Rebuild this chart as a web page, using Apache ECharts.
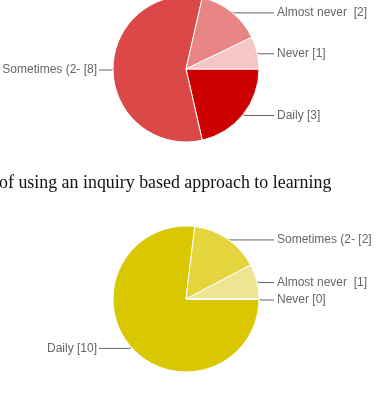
<!DOCTYPE html>
<html><head><meta charset="utf-8">
<script src="https://cdn.jsdelivr.net/npm/echarts@6/dist/echarts.min.js"></script>
<style>html,body{margin:0;padding:0;background:#fff;}#c{width:378px;height:402px;}</style>
</head><body><div id="c"></div>
<script>
var categories = ['Daily', 'Sometimes (2-', 'Almost never ', 'Never'];
var topValues = [3, 8, 2, 1];
var bottomValues = [10, 2, 1, 0];
var topColors = ['#cc0000', '#dc4848', '#e88585', '#f4c6c6'];
var bottomColors = ['#d9c800', '#e4d53e', '#eee593', '#f6f1c8'];
var middleText = 'of using an inquiry based approach to learning';

function mkData(vals, cols) {
  return vals.map(function (v, i) {
    return { name: categories[i], value: v, itemStyle: { color: cols[i] } };
  });
}
var chart = echarts.init(document.getElementById('c'), null, { renderer: 'canvas' });
function layout(params) {
  var pts = params.labelLinePoints;
  if (!pts) return {};
  var p0 = pts[0];
  var isLeft = p0[0] < 186;
  var y = p0[1] + 1;
  if (isLeft) {
    return { x: 97, y: y, align: 'right', verticalAlign: 'middle',
      labelLinePoints: [[p0[0], p0[1]], [p0[0] - 2, y], [99, y]] };
  }
  return { x: 277, y: y, align: 'left', verticalAlign: 'middle',
    labelLinePoints: [[p0[0], p0[1]], [p0[0] + 2, y], [274, y]] };
}
function series(vals, cols, cy) {
  return {
    type: 'pie', center: [186, cy], radius: 73, startAngle: 0, clockwise: true,
    animation: false, avoidLabelOverlap: false, minAngle: 0,
    data: mkData(vals, cols),
    itemStyle: { borderColor: '#ffffff', borderWidth: 1 },
    label: { show: true, formatter: function (p) { return p.name + ' [' + p.value + ']'; },
      color: '#666', fontFamily: 'Liberation Sans, Arial, sans-serif', fontSize: 12 },
    labelLine: { show: true, lineStyle: { color: '#666', width: 1 }, length: 2, length2: 10 },
    labelLayout: layout,
    emphasis: { disabled: true }
  };
}
chart.setOption({
  backgroundColor: '#ffffff',
  title: { text: middleText, left: -1, top: 174, padding: 0,
    textStyle: { fontFamily: 'Liberation Serif, Times New Roman, serif', fontSize: 17.9, fontWeight: 'normal', color: '#111' } },
  series: [series(topValues, topColors, 69), series(bottomValues, bottomColors, 299)]
});
</script></body></html>
